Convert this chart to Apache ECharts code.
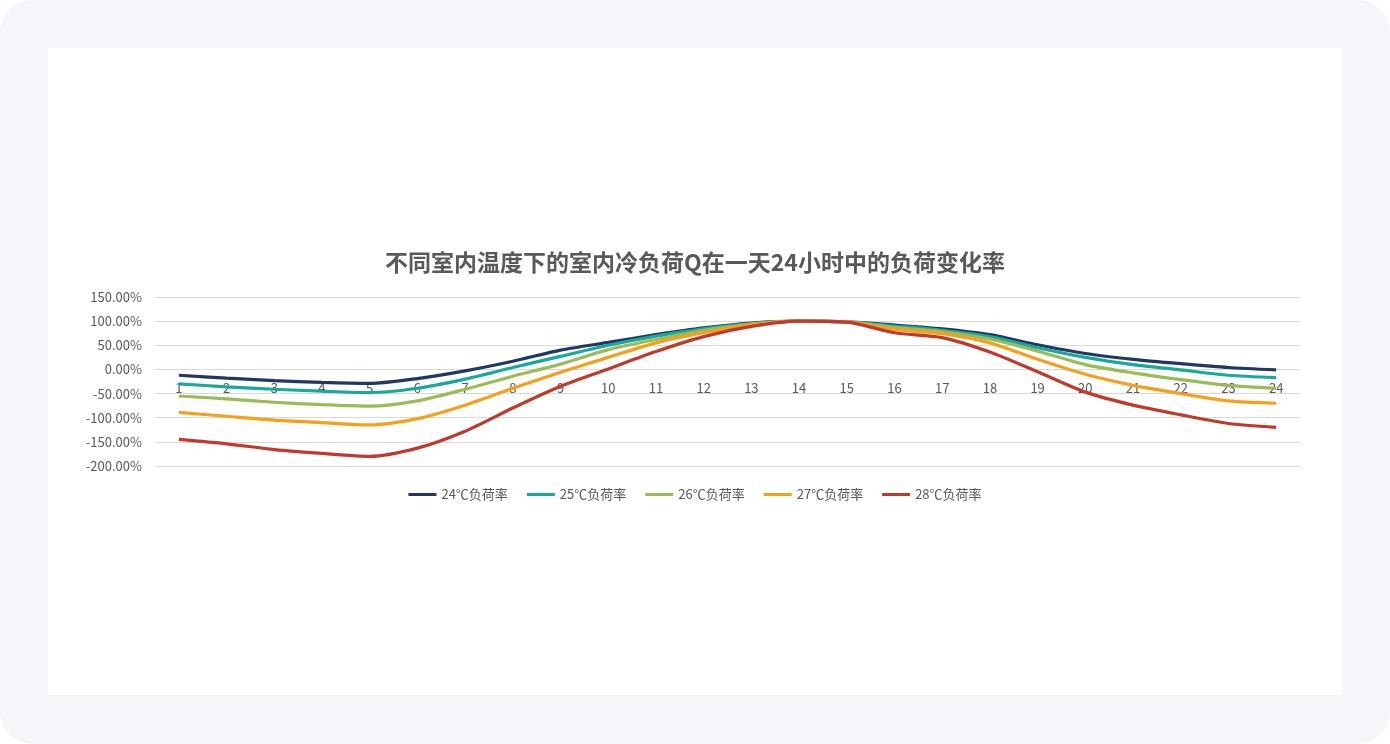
<!DOCTYPE html>
<html>
<head>
<meta charset="utf-8">
<script src="https://cdn.jsdelivr.net/npm/echarts@6/dist/echarts.min.js"></script>
<style>
    html, body { margin: 0; padding: 0; background: #fff; }
    .frame {
        position: absolute; left: 0; top: 0;
        width: 1390px; height: 744px;
        background: #f4f6fa;
        border-radius: 32px;
    }
    #chart {
        position: absolute; left: 48px; top: 48px;
        width: 1294px; height: 647px;
        background: #fff;
    }
</style>
</head>
<body>
<div class="frame"><div id="chart"></div></div>
<script>
// 小时
const hours = ['1','2','3','4','5','6','7','8','9','10','11','12','13','14','15','16','17','18','19','20','21','22','23','24'];
const seriesNames = ['24℃负荷率', '25℃负荷率', '26℃负荷率', '27℃负荷率', '28℃负荷率'];
const seriesColors = ['#1f3864', '#17a99a', '#9bbb59', '#f5a01a', '#c0392b'];

// 负荷变化率 (%)
const rate24 = [-12, -18, -23, -27, -29, -19, -3, 17, 40, 56, 72, 86, 96, 100, 98.6, 92, 84, 72, 51, 33, 21, 12, 4, -1];
const rate25 = [-30, -36, -41, -45, -48, -39, -20, 4, 27, 50, 69, 84, 95, 100, 98.6, 90, 81, 68, 45, 25, 10, -1, -12, -17];
const rate26 = [-55, -61, -68, -73, -76, -65, -41, -14, 11, 41, 62, 81, 94, 100, 98.6, 87, 78, 63, 38, 10, -7, -21, -33, -39];
const rate27 = [-89, -97, -105, -110, -115, -102, -74, -39, -6, 25, 55, 76, 93, 100, 98.6, 83, 74, 55, 21, -10, -33, -50, -65, -70];
const rate28 = [-145, -154, -166, -174, -180, -163, -128, -80, -35, 1, 37, 68, 89, 100, 98, 76, 66, 36, -5, -47, -74, -94, -112, -120];

const yTicks = { min: -200, max: 150, interval: 50 };

const TEXT_COLOR = '#595959';
const FONT = '"Noto Sans CJK SC", "Noto Sans", sans-serif';

// 网格高度 169px, x 轴放在 0 线上
const GRID_HEIGHT = 169;
const zeroOffset = -GRID_HEIGHT * (0 - yTicks.min) / (yTicks.max - yTicks.min);

const chart = echarts.init(document.getElementById('chart'));
const allRates = [rate24, rate25, rate26, rate27, rate28];

chart.setOption({
    animation: false,
    textStyle: { fontFamily: FONT },
    title: {
        text: '不同室内温度下的室内冷负荷Q在一天24小时中的负荷变化率',
        left: 'center',
        top: 198,
        textStyle: { fontSize: 23, fontWeight: 'bold', color: TEXT_COLOR, fontFamily: FONT }
    },
    legend: {
        top: 435,
        left: 'center',
        itemWidth: 28,
        itemHeight: 3,
        itemGap: 19,
        icon: 'rect',
        textStyle: { fontSize: 13, color: TEXT_COLOR, fontFamily: FONT },
        data: seriesNames
    },
    grid: { left: 107, right: 42, top: 249, height: GRID_HEIGHT, containLabel: false },
    xAxis: {
        type: 'category',
        data: hours,
        boundaryGap: true,
        position: 'bottom',
        offset: zeroOffset,
        axisLine: { onZero: false, lineStyle: { color: '#d9d9d9' } },
        axisTick: { show: false },
        axisLabel: { color: TEXT_COLOR, fontSize: 13, margin: 12, fontFamily: FONT }
    },
    yAxis: {
        type: 'value',
        min: yTicks.min,
        max: yTicks.max,
        interval: yTicks.interval,
        axisLine: { show: false },
        axisTick: { show: false },
        splitLine: { lineStyle: { color: '#d9d9d9', width: 1 } },
        axisLabel: {
            color: TEXT_COLOR,
            fontSize: 13,
            margin: 13,
            fontFamily: FONT,
            formatter: v => v.toFixed(2) + '%'
        }
    },
    series: allRates.map((data, i) => ({
        name: seriesNames[i],
        type: 'line',
        data: data,
        smooth: 0.25,
        showSymbol: false,
        lineStyle: { width: 3.2, color: seriesColors[i] },
        itemStyle: { color: seriesColors[i] }
    }))
});
</script>
</body>
</html>
